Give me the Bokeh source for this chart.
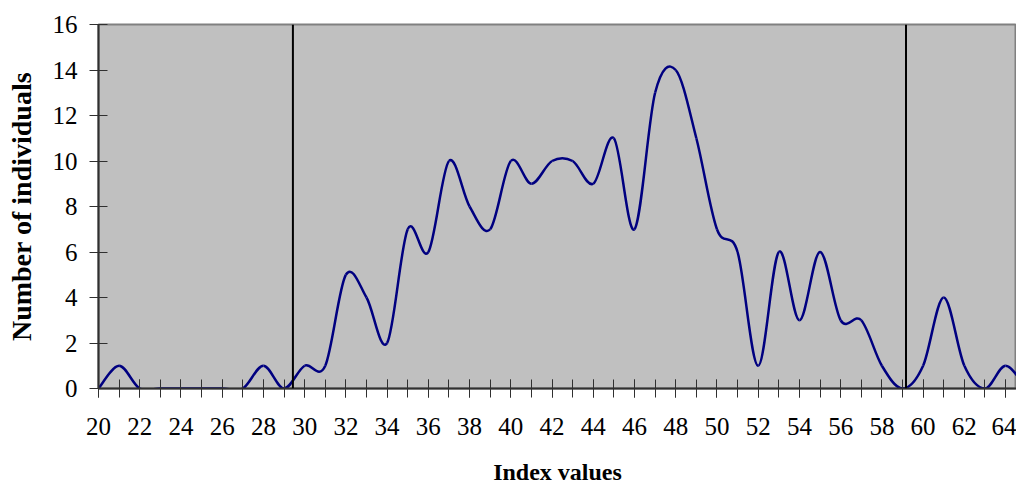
import numpy as np
from bokeh.plotting import figure
from bokeh.models import Range1d, FixedTicker, Span
from bokeh.embed import file_html
from bokeh.resources import INLINE

# ---- data ----
index_values = list(range(20, 66))
counts = [0, 1, 0, 0, 0, 0, 0, 0, 1, 0,
          1, 1, 5, 4, 2, 7, 6, 10, 8, 7,
          10, 9, 10, 10, 9, 11, 7, 13, 14, 11,
          7, 6, 1, 6, 3, 6, 3, 3, 1, 0,
          1, 4, 1, 0, 1, 0]
x_label_ticks = list(range(20, 65, 2))
x_all_ticks = list(range(20, 66))
y_ticks = list(range(0, 17, 2))
threshold_lines = [29.43, 59.17]
x_title = "Index values"
y_title = "Number of individuals"

# ---- smooth line (Catmull-Rom style bezier segments, as in a spreadsheet "smoothed line") ----
xs = np.array(index_values, dtype=float)
ys = np.array(counts, dtype=float)
px = np.concatenate([[xs[0]], xs, [xs[-1]]])
py = np.concatenate([[ys[0]], ys, [ys[-1]]])
n = len(xs)
x0 = xs[:-1]; y0 = ys[:-1]; x1 = xs[1:]; y1 = ys[1:]
cx0 = xs[:-1] + (px[2:n + 1] - px[0:n - 1]) / 6.0
cy0 = ys[:-1] + (py[2:n + 1] - py[0:n - 1]) / 6.0
cx1 = xs[1:] - (px[3:n + 2] - px[1:n]) / 6.0
cy1 = ys[1:] - (py[3:n + 2] - py[1:n]) / 6.0

FONT = "Liberation Serif"

p = figure(width=1016, height=487,
           x_range=Range1d(20, 64.53), y_range=Range1d(0, 16),
           output_backend="svg", toolbar_location=None,
           min_border_left=98, min_border_right=0,
           min_border_top=24, min_border_bottom=99)

p.background_fill_color = "#C0C0C0"
p.border_fill_color = "white"
p.outline_line_color = "#808080"
p.outline_line_width = 2
p.xgrid.visible = False
p.ygrid.visible = False

p.bezier(x0=x0, y0=y0, x1=x1, y1=y1, cx0=cx0, cy0=cy0, cx1=cx1, cy1=cy1,
         line_color="#000080", line_width=2.5)

for xv in threshold_lines:
    p.add_layout(Span(location=xv, dimension="height", line_color="black", line_width=2))

# x axis
xa = p.xaxis[0]
xa.ticker = FixedTicker(ticks=x_label_ticks, minor_ticks=x_all_ticks)
xa.axis_line_color = "#303030"
xa.axis_line_width = 2
xa.major_tick_line_color = "#303030"
xa.minor_tick_line_color = "#303030"
xa.major_tick_in = 9
xa.major_tick_out = 9
xa.minor_tick_in = 9
xa.minor_tick_out = 9
xa.major_label_text_font = FONT
xa.major_label_text_font_size = "25px"
xa.major_label_text_color = "black"
xa.major_label_standoff = 20
xa.axis_label = x_title
xa.axis_label_text_font = FONT
xa.axis_label_text_font_style = "bold"
xa.axis_label_text_font_size = "24px"
xa.axis_label_text_color = "black"
xa.axis_label_standoff = 21

# y axis
ya = p.yaxis[0]
ya.ticker = FixedTicker(ticks=y_ticks)
ya.axis_line_color = "#303030"
ya.axis_line_width = 2
ya.major_tick_line_color = "#303030"
ya.major_tick_in = 9
ya.major_tick_out = 9
ya.minor_tick_line_color = None
ya.major_label_text_font = FONT
ya.major_label_text_font_size = "25px"
ya.major_label_text_color = "black"
ya.major_label_standoff = 12
ya.axis_label = y_title
ya.axis_label_text_font = FONT
ya.axis_label_text_font_style = "bold"
ya.axis_label_text_font_size = "28px"
ya.axis_label_text_color = "black"
ya.axis_label_standoff = 13

open("out.html", "w").write(file_html(p, INLINE))
